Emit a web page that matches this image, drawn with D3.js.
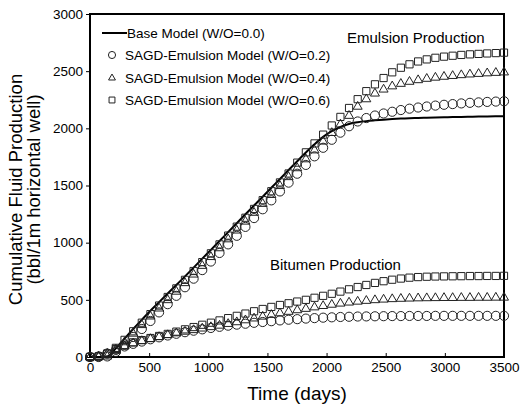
<!DOCTYPE html>
<html>
<head>
<meta charset="utf-8">
<script src="https://cdn.jsdelivr.net/npm/d3@7"></script>
<style>
  html, body { margin: 0; padding: 0; background: #fff; }
  svg { display: block; }
  text { font-family: "Liberation Sans", Arial, sans-serif; fill: #000; }
</style>
</head>
<body>
<svg id="chart" width="520" height="406"></svg>
<script>
// Simulation output times (days)
const days = [0,73,146,219,292,365,438,511,584,657,730,803,876,949,1022,1095,1168,1241,1314,1387,1460,1533,1606,1679,1752,1825,1898,1971,2044,2117,2190,2263,2336,2409,2482,2555,2628,2701,2774,2847,2920,2993,3066,3139,3212,3285,3358,3431,3500];

// Base model (W/O = 0.0): cumulative fluid production
const baseModel = [0,0,5,75,160,245,325,405,480,555,630,705,782,860,937,1015,1092,1170,1248,1325,1402,1480,1557,1635,1712,1788,1860,1925,1975,2012,2038,2053,2063,2070,2076,2081,2085,2088,2091,2093,2095,2097,2099,2100,2102,2103,2104,2105,2106];

// SAGD-emulsion model: cumulative emulsion production
const emulsion02 = [0,0,5,45,110,175,245,315,390,462,535,610,685,760,835,910,985,1060,1138,1215,1292,1370,1448,1525,1603,1680,1755,1830,1900,1962,2018,2060,2090,2112,2130,2145,2160,2172,2182,2191,2199,2206,2212,2218,2223,2227,2231,2234,2237];
const emulsion04 = [0,0,5,55,130,205,280,355,425,498,572,647,722,798,875,952,1030,1107,1185,1262,1340,1418,1496,1574,1652,1730,1808,1885,1960,2035,2110,2190,2255,2305,2340,2368,2390,2408,2422,2434,2444,2452,2459,2466,2472,2477,2482,2486,2490];
const emulsion06 = [0,5,30,80,150,225,300,375,450,525,600,675,752,830,907,985,1062,1140,1218,1295,1372,1450,1527,1605,1700,1790,1868,1945,2025,2100,2178,2255,2325,2385,2440,2490,2530,2560,2585,2603,2617,2627,2635,2642,2647,2651,2655,2658,2662];

// SAGD-emulsion model: cumulative bitumen production
const bitumen02 = [0,5,30,62,92,115,135,155,172,188,203,217,230,242,254,264,274,283,291,299,306,313,320,326,331,336,340,344,347,350,352,354,355,356,357,358,358,359,359,359,360,360,360,360,360,360,360,360,360];
const bitumen04 = [0,5,30,65,95,120,140,158,175,192,208,222,236,250,262,275,290,305,322,338,354,369,383,396,410,422,435,447,458,468,477,485,492,498,503,507,510,512,514,515,516,517,517,518,518,519,519,520,520];
const bitumen06 = [0,5,30,70,100,128,148,166,184,202,222,242,262,282,300,320,340,360,380,400,420,438,455,470,485,500,518,535,553,572,592,612,630,648,663,676,686,694,699,702,704,705,706,707,708,708,709,709,710];

const xTicks = [0,500,1000,1500,2000,2500,3000,3500];
const yTicks = [0,500,1000,1500,2000,2500,3000];

const legendLabels = [
  "Base Model (W/O=0.0)",
  "SAGD-Emulsion Model (W/O=0.2)",
  "SAGD-Emulsion Model (W/O=0.4)",
  "SAGD-Emulsion Model (W/O=0.6)"
];

const svg = d3.select("#chart");
const margin = { left: 90, right: 16, top: 14, bottom: 49 };
const W = 520, H = 406;

const x = d3.scaleLinear().domain([0, 3500]).range([margin.left, W - margin.right]);
const y = d3.scaleLinear().domain([0, 3000]).range([H - margin.bottom, margin.top]);

// axes: inward ticks along time, outward ticks along production
const xAxis = d3.axisBottom(x).tickValues(xTicks).tickSize(-4).tickSizeOuter(0).tickPadding(5)
  .tickFormat(d3.format("d"));
const yAxis = d3.axisLeft(y).tickValues(yTicks).tickSize(4).tickSizeOuter(0).tickPadding(3)
  .tickFormat(d3.format("d"));

const gx = svg.append("g").attr("transform", `translate(0,${y(0)})`).call(xAxis);
const gy = svg.append("g").attr("transform", `translate(${x(0)},0)`).call(yAxis);
[gx, gy].forEach(g => {
  g.select(".domain").remove();
  g.selectAll(".tick line").attr("stroke", "#000").attr("stroke-width", 1);
  g.selectAll(".tick text").attr("font-size", 13.5).attr("fill", "#000")
    .attr("font-family", "Liberation Sans, Arial, sans-serif");
});

// plot frame
svg.append("rect")
  .attr("x", x(0)).attr("y", y(3000))
  .attr("width", x(3500) - x(0)).attr("height", y(0) - y(3000))
  .attr("fill", "none").attr("stroke", "#000").attr("stroke-width", 2);

// axis titles
svg.append("text")
  .attr("x", (x(0) + x(3500)) / 2).attr("y", 400)
  .attr("text-anchor", "middle").attr("font-size", 19)
  .text("Time (days)");

const yMid = (y(0) + y(3000)) / 2 + 4;
svg.append("text")
  .attr("transform", `translate(22,${yMid}) rotate(-90)`)
  .attr("text-anchor", "middle").attr("font-size", 18.5)
  .text("Cumulative Fluid Production");
svg.append("text")
  .attr("transform", `translate(40,${yMid}) rotate(-90)`)
  .attr("text-anchor", "middle").attr("font-size", 18.5)
  .text("(bbl/1m horizontal well)");

// marker shapes
const markerStroke = "#222";
const sym = {
  circle: d3.symbol().type(d3.symbolCircle).size(66),
  triangle: d3.symbol().type(d3.symbolTriangle2).size(58),
  square: d3.symbol().type(d3.symbolSquare2).size(66)
};
const legSym = {
  circle: d3.symbol().type(d3.symbolCircle).size(40),
  triangle: d3.symbol().type(d3.symbolTriangle2).size(34),
  square: d3.symbol().type(d3.symbolSquare2).size(44)
};
function drawMarkers(values, shape) {
  svg.append("g").selectAll("path")
    .data(days.map((d, i) => [d, values[i]]))
    .join("path")
    .attr("d", sym[shape])
    .attr("transform", d => `translate(${x(d[0])},${y(d[1])})`)
    .attr("fill", "none")
    .attr("stroke", markerStroke)
    .attr("stroke-width", 1);
}

// base model curve
const line = d3.line().x((d, i) => x(days[i])).y(d => y(d)).curve(d3.curveMonotoneX);
svg.append("path").datum(baseModel)
  .attr("d", line).attr("fill", "none").attr("stroke", "#000").attr("stroke-width", 2);

drawMarkers(bitumen02, "circle");
drawMarkers(bitumen04, "triangle");
drawMarkers(bitumen06, "square");
drawMarkers(emulsion02, "circle");
drawMarkers(emulsion04, "triangle");
drawMarkers(emulsion06, "square");

// annotations
svg.append("text").attr("x", 347).attr("y", 43).attr("font-size", 15).text("Emulsion Production");
svg.append("text").attr("x", 270).attr("y", 270).attr("font-size", 15).text("Bitumen Production");

// legend
const legY = [33, 55, 78, 100];
const leg = svg.append("g");
leg.append("line").attr("x1", 102).attr("x2", 127).attr("y1", legY[0]).attr("y2", legY[0])
  .attr("stroke", "#000").attr("stroke-width", 2);
["circle", "triangle", "square"].forEach((s, i) => {
  leg.append("path").attr("d", legSym[s]).attr("transform", `translate(112,${legY[i + 1]})`)
    .attr("fill", "none").attr("stroke", markerStroke).attr("stroke-width", 1);
});
legendLabels.forEach((t, i) => {
  leg.append("text").attr("x", i === 0 ? 127 : 125).attr("y", legY[i]).attr("dy", "0.35em")
    .attr("font-size", 13.5).text(t);
});
</script>
</body>
</html>
